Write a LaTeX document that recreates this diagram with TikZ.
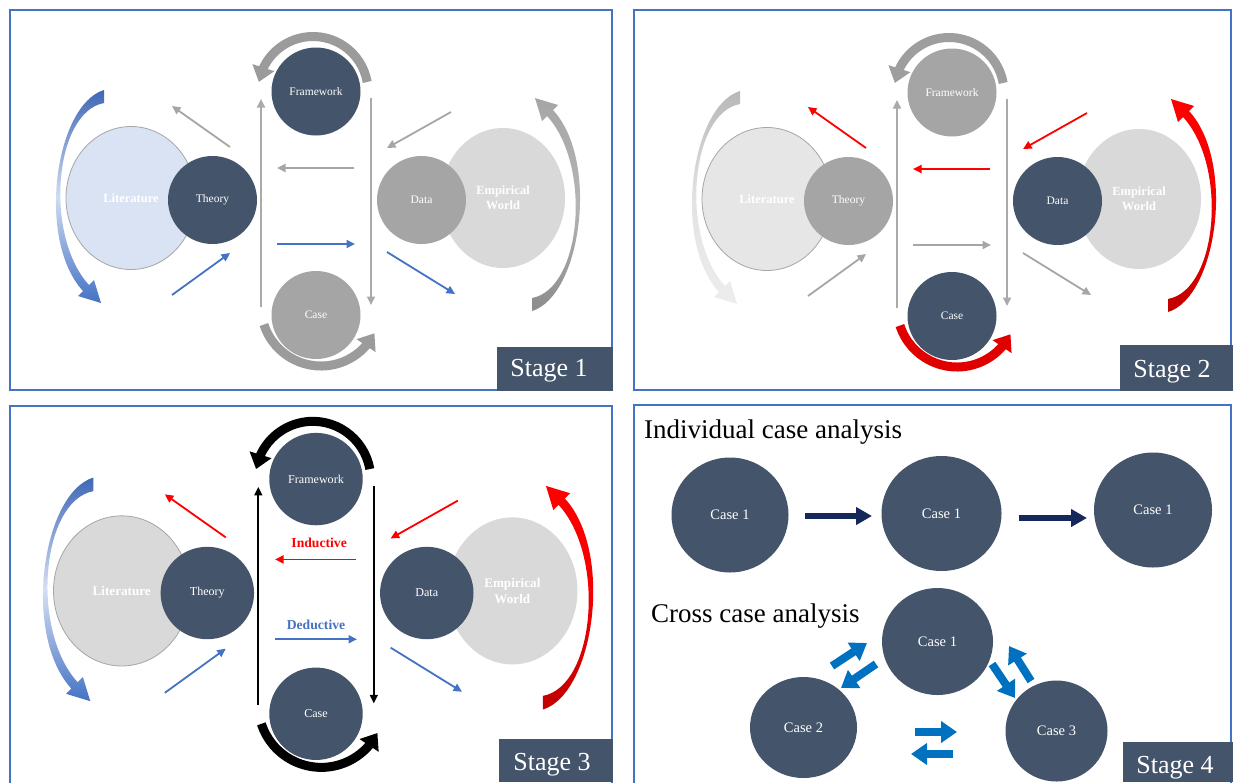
\documentclass[tikz,border=0pt]{standalone}
\usepackage{fontspec}
\setmainfont{Liberation Serif}
\usetikzlibrary{arrows.meta,bending,shapes.geometric}

\definecolor{slate}{HTML}{44546A}
\definecolor{framebl}{HTML}{4472C4}
\definecolor{navyarrow}{HTML}{14285A}
\definecolor{caseblue}{HTML}{0070C0}
\definecolor{accblue}{HTML}{4472C4}
\definecolor{accred}{HTML}{FF0000}

\tikzset{
  panelframe/.style={draw=framebl, line width=2.4pt},
  stagetext/.style={text=white, font=\fontsize{26}{28}\selectfont, inner sep=0pt, anchor=base},
  disc/.style={ellipse, draw=none, inner sep=0pt, text=white, align=center},
  smalldisc/.style={disc, minimum width=89pt, minimum height=88pt, font=\fontsize{11.5}{13}\selectfont},
  bigdisc/.style={disc, font=\bfseries\fontsize{12.5}{15}\selectfont},
  flowarrow/.style={line width=1.8pt, -{Triangle[width=8pt,length=8.5pt]}},
  looparrow/.style={line width=9pt, -{Triangle[width=22pt,length=15pt]}},
  casedisc/.style={disc, fill=slate, font=\fontsize{14.5}{16}\selectfont},
  navyflow/.style={navyarrow, line width=6pt, -{Triangle[width=17pt,length=16pt]}},
  blockarrow/.style={caseblue, line width=8pt, -{Triangle[width=21pt,length=16pt]}},
  headline/.style={font=\fontsize{27}{30}\selectfont, anchor=base west, inner sep=0pt},
  methodlabel/.style={font=\bfseries\fontsize{13}{15}\selectfont},
}

% One research-cycle panel, drawn in the frame of the first panel.
\newcommand\drawstage[1]{%
  % overlapping circle pairs and the two central circles
  \node[bigdisc, fill=cLitF, draw=cLitD, line width=0.8pt,
        minimum width=130pt, minimum height=143pt] (#1-lit) at (131,198) {Literature};
  \node[bigdisc, fill=cEm, minimum width=124pt, minimum height=140pt]
        (#1-emp) at (503,198) {Empirical\\World};
  \node[smalldisc, fill=cTh] (#1-th) at (212.5,200) {Theory};
  \node[smalldisc, fill=cDa] (#1-da) at (421.5,200) {Data};
  \node[smalldisc, fill=cFw] (#1-fw) at (316,91.5) {Framework};
  \node[smalldisc, fill=cCa] (#1-ca) at (316,315) {Case};
  % loops round framework and case
  \coordinate (#1-tarc) at ({313+55*cos(-10)},{91.5+55*sin(-10)});
  \coordinate (#1-barc) at ({321+60*cos(162)},{306+60*sin(162)});
  \draw[looparrow, cTop] (#1-tarc) arc[start angle=-10, end angle=-170, radius=55];
  \draw[looparrow, cBot] (#1-barc) arc[start angle=162, end angle=27, radius=60];
  % sweeping arrows round literature and empirical world
  \shade[top color=cLa1, bottom color=cLa3, middle color=cLa2]
    (104,90) .. controls (55,105) and (36,240) .. (83,291) -- (78,296) -- (101,303)
    -- (94,280) -- (89,285) .. controls (44,236) and (54,112) .. (104,103) -- cycle;
  \shade[top color=cRa1, bottom color=cRa3, middle color=cRa2]
    (532,311) .. controls (581,296) and (600,161) .. (553,110) -- (558,105) -- (535,98)
    -- (542,121) -- (547,116) .. controls (592,165) and (582,289) .. (532,298) -- cycle;
  % straight connectors
  \coordinate (#1-vl0) at (261,307); \coordinate (#1-vl1) at (261,99);
  \coordinate (#1-vr0) at (371,98);  \coordinate (#1-vr1) at (371,305);
  \coordinate (#1-hu0) at (354,168); \coordinate (#1-hu1) at (277,168);
  \coordinate (#1-hl0) at (277,244); \coordinate (#1-hl1) at (355,244);
  \coordinate (#1-ul0) at (230,147); \coordinate (#1-ul1) at (172,106);
  \coordinate (#1-ll0) at (172,295); \coordinate (#1-ll1) at (230,253);
  \coordinate (#1-ur0) at (451,112); \coordinate (#1-ur1) at (387,148);
  \coordinate (#1-lr0) at (387,252); \coordinate (#1-lr1) at (455,294);
  \draw[flowarrow, cVert] (#1-vl0) -- (#1-vl1);
  \draw[flowarrow, cVert] (#1-vr0) -- (#1-vr1);
  \draw[flowarrow, cUp] (#1-hu0) -- (#1-hu1);
  \draw[flowarrow, cUp] (#1-ul0) -- (#1-ul1);
  \draw[flowarrow, cUp] (#1-ur0) -- (#1-ur1);
  \draw[flowarrow, cLow] (#1-hl0) -- (#1-hl1);
  \draw[flowarrow, cLow] (#1-ll0) -- (#1-ll1);
  \draw[flowarrow, cLow] (#1-lr0) -- (#1-lr1);
}

\begin{document}
\begin{tikzpicture}[x=1pt, y=-1pt]
\useasboundingbox (0,0) rectangle (1233,782);
\clip (0,0) rectangle (1233,782);
\fill[white] (0,0) rectangle (1233,782);

% panel frames
\draw[panelframe] (10,10) rectangle (612,390);
\draw[panelframe] (634,10) rectangle (1231,390);
\draw[panelframe] (10,406) rectangle (612,800);
\draw[panelframe] (634,405) rectangle (1231,800);

% ---- Stage 1
\begin{scope}
  \definecolor{cLitF}{HTML}{DAE3F3}\definecolor{cLitD}{HTML}{A6A6A6}
  \definecolor{cEm}{HTML}{D9D9D9}
  \colorlet{cTh}{slate}\definecolor{cDa}{HTML}{A5A5A5}
  \colorlet{cFw}{slate}\definecolor{cCa}{HTML}{A5A5A5}
  \definecolor{cLa1}{HTML}{3F67B5}\definecolor{cLa2}{HTML}{D0DCF2}\definecolor{cLa3}{HTML}{4472C4}
  \definecolor{cRa1}{HTML}{A6A6A6}\definecolor{cRa2}{HTML}{B5B5B5}\definecolor{cRa3}{HTML}{8C8C8C}
  \definecolor{cTop}{HTML}{9B9B9B}\definecolor{cBot}{HTML}{9B9B9B}
  \definecolor{cVert}{HTML}{AAAAAA}\definecolor{cUp}{HTML}{A6A6A6}\definecolor{cLow}{HTML}{4472C4}
  \drawstage{s1}
\end{scope}

% ---- Stage 2
\begin{scope}[shift={(636,1)}]
  \definecolor{cLitF}{HTML}{E7E6E6}\definecolor{cLitD}{HTML}{A6A6A6}
  \definecolor{cEm}{HTML}{D9D9D9}
  \definecolor{cTh}{HTML}{A5A5A5}\colorlet{cDa}{slate}
  \definecolor{cFw}{HTML}{A5A5A5}\colorlet{cCa}{slate}
  \definecolor{cLa1}{HTML}{B8B8B8}\definecolor{cLa2}{HTML}{E2E2E2}\definecolor{cLa3}{HTML}{EDEDED}
  \definecolor{cRa1}{HTML}{FF0000}\definecolor{cRa2}{HTML}{F20000}\definecolor{cRa3}{HTML}{C00000}
  \definecolor{cTop}{HTML}{9E9E9E}\definecolor{cBot}{HTML}{E00000}
  \definecolor{cVert}{HTML}{AAAAAA}\definecolor{cUp}{HTML}{FF0000}\definecolor{cLow}{HTML}{A6A6A6}
  \drawstage{s2}
\end{scope}

% ---- Stage 3
\begin{scope}[shift={(316,593)}, scale=1.05, shift={(-316,-200)}, transform shape]
  \definecolor{cLitF}{HTML}{D9D9D9}\definecolor{cLitD}{HTML}{A6A6A6}
  \definecolor{cEm}{HTML}{D9D9D9}
  \colorlet{cTh}{slate}\colorlet{cDa}{slate}
  \colorlet{cFw}{slate}\colorlet{cCa}{slate}
  \definecolor{cLa1}{HTML}{3F67B5}\definecolor{cLa2}{HTML}{D6E0F3}\definecolor{cLa3}{HTML}{4472C4}
  \definecolor{cRa1}{HTML}{FF0000}\definecolor{cRa2}{HTML}{F20000}\definecolor{cRa3}{HTML}{C00000}
  \colorlet{cTop}{black}\colorlet{cBot}{black}
  \colorlet{cVert}{black}\definecolor{cUp}{HTML}{FF0000}\definecolor{cLow}{HTML}{4472C4}
  \drawstage{s3}
  \node[methodlabel, text=accred] (s3-ind) at (319,152) {Inductive};
  \node[methodlabel, text=accblue] (s3-ded) at (316,230.5) {Deductive};
\end{scope}

% ---- Stage 4
\node[headline] (s4-ind) at (644,438) {Individual case analysis};
\node[headline] (s4-cross) at (651,622) {Cross case analysis};
\node[casedisc, minimum width=117pt, minimum height=115pt] (s4-a) at (730,515) {Case 1};
\node[casedisc, minimum width=120pt, minimum height=115pt] (s4-b) at (941.5,513.5) {Case 1};
\node[casedisc, minimum width=118pt, minimum height=115pt] (s4-c) at (1153,510) {Case 1};
\coordinate (s4-ab0) at (805,516);  \coordinate (s4-ab1) at (872,516);
\coordinate (s4-bc0) at (1019,518); \coordinate (s4-bc1) at (1087,518);
\draw[navyflow] (s4-ab0) -- (s4-ab1);
\draw[navyflow] (s4-bc0) -- (s4-bc1);

\node[casedisc, minimum width=111pt, minimum height=107pt] (s4-x1) at (937.5,641.5) {Case 1};
\node[casedisc, minimum width=107pt, minimum height=101pt] (s4-x2) at (803.5,727.5) {Case 2};
\node[casedisc, minimum width=102pt, minimum height=101pt] (s4-x3) at (1056.5,731) {Case 3};
\coordinate (s4-p1) at (832,666);  \coordinate (s4-q1) at (867,643);
\coordinate (s4-p2) at (876,664);  \coordinate (s4-q2) at (841,688);
\coordinate (s4-p3) at (992,664);  \coordinate (s4-q3) at (1015,698);
\coordinate (s4-p4) at (1031,681); \coordinate (s4-q4) at (1009,646);
\coordinate (s4-p5) at (915,732);  \coordinate (s4-q5) at (957,732);
\coordinate (s4-p6) at (953,754);  \coordinate (s4-q6) at (911,754);
\draw[blockarrow] (s4-p1) -- (s4-q1);
\draw[blockarrow] (s4-p2) -- (s4-q2);
\draw[blockarrow] (s4-p3) -- (s4-q3);
\draw[blockarrow] (s4-p4) -- (s4-q4);
\draw[blockarrow] (s4-p5) -- (s4-q5);
\draw[blockarrow] (s4-p6) -- (s4-q6);

% stage tags
\fill[slate] (497,347) rectangle (613,391);
\node[stagetext] (tag1) at (549,376) {Stage 1};
\fill[slate] (1120,345) rectangle (1233,391);
\node[stagetext] (tag2) at (1172,377) {Stage 2};
\fill[slate] (499,739) rectangle (613,782);
\node[stagetext] (tag3) at (552,770) {Stage 3};
\fill[slate] (1123,742) rectangle (1233,782);
\node[stagetext] (tag4) at (1175,773) {Stage 4};
\end{tikzpicture}
\end{document}
